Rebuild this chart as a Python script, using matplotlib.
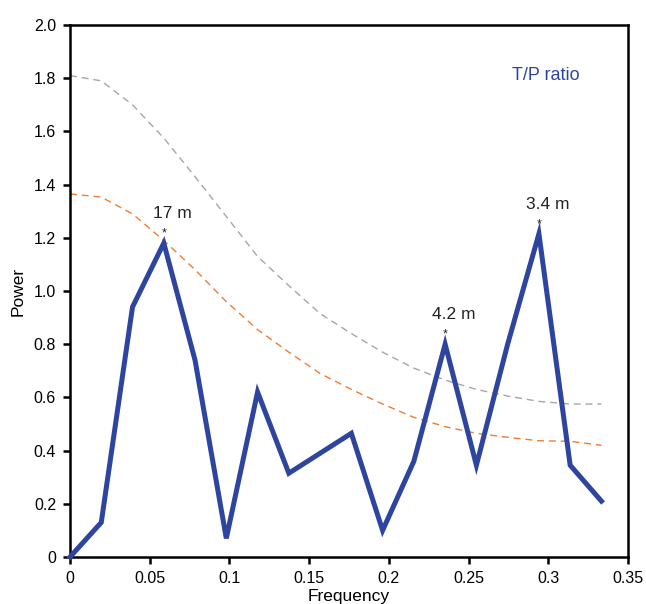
import matplotlib
matplotlib.use("Agg")
import matplotlib.pyplot as plt
import numpy as np

plt.rcParams['font.family'] = ['Liberation Sans', 'DejaVu Sans']

frequency = [k / 51 for k in range(18)]
power = [0.0, 0.13, 0.94, 1.18, 0.74, 0.07, 0.62, 0.315, 0.39, 0.465,
         0.10, 0.36, 0.80, 0.345, 0.80, 1.215, 0.345, 0.21]
ci_high = [1.81, 1.79, 1.70, 1.575, 1.43, 1.28, 1.13, 1.02, 0.915, 0.84,
           0.77, 0.71, 0.665, 0.63, 0.605, 0.585, 0.575, 0.575]
ci_low = [1.365, 1.353, 1.29, 1.19, 1.08, 0.96, 0.855, 0.77, 0.69, 0.63,
          0.575, 0.525, 0.49, 0.465, 0.45, 0.437, 0.435, 0.42]

peak_labels = ["17 m", "4.2 m", "3.4 m"]
peak_idx = [3, 12, 15]

xticks = [0, 0.05, 0.1, 0.15, 0.2, 0.25, 0.3, 0.35]
xticklabels = ["0", "0.05", "0.1", "0.15", "0.2", "0.25", "0.3", "0.35"]
yticks = [0, 0.2, 0.4, 0.6, 0.8, 1.0, 1.2, 1.4, 1.6, 1.8, 2.0]
yticklabels = ["0", "0.2", "0.4", "0.6", "0.8", "1.0", "1.2", "1.4", "1.6", "1.8", "2.0"]

fig = plt.figure(figsize=(6.46, 6.04), dpi=100)
ax = fig.add_axes([70/646, 47/604, 558/646, 532/604])

ax.plot(frequency, ci_high, color='#A6A6A6', lw=1.0, ls=(0, (5, 3.5)))
ax.plot(frequency, ci_low, color='#F07D2E', lw=1.0, ls=(0, (5, 3.5)))
ax.plot(frequency, power, color='#2E45A0', lw=3.6, solid_joinstyle='miter', clip_on=False, zorder=5)

for lab, i in zip(peak_labels, peak_idx):
    x, y = frequency[i], power[i]
    ax.text(x, y + 0.035, "*", ha='center', va='center', fontsize=9, color='#222222')
    ax.text(x + 0.0055, y + 0.11, lab, ha='center', va='center', fontsize=12.5, color='#222222')

ax.text(0.2985, 1.81, "T/P ratio", ha='center', va='center', fontsize=13, color='#2E45A0')

ax.set_xlim(0, 0.35)
ax.set_ylim(0, 2.0)
ax.set_xticks(xticks)
ax.set_xticklabels(xticklabels)
ax.set_yticks(yticks)
ax.set_yticklabels(yticklabels)
ax.tick_params(direction='out', length=5, width=1.8, labelsize=11.5, pad=5)
for s in ax.spines.values():
    s.set_linewidth(1.8)
ax.set_xlabel("Frequency", fontsize=12.5, labelpad=2)
ax.set_ylabel("Power", fontsize=12.5, labelpad=6)

fig.savefig("out.png", dpi=100)
